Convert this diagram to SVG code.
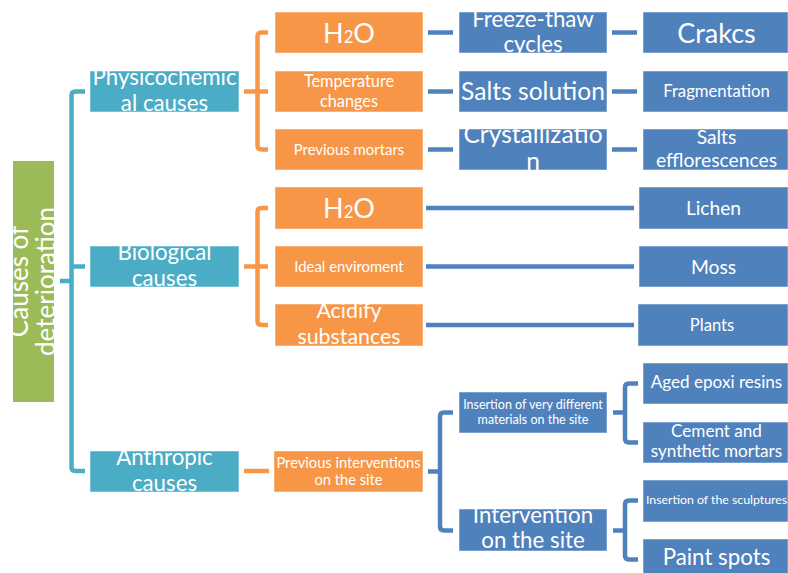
<svg xmlns="http://www.w3.org/2000/svg" width="788" height="573" viewBox="0 0 788 573">
<style>
.t{fill:#fff;font-family:Lato,"Liberation Sans",sans-serif;text-anchor:middle}
.green{fill:#9BBB59}
.teal{fill:#4BACC6}
.orange{fill:#F79646}
.blue{fill:#4F81BD}
.box{stroke:#fff;stroke-opacity:.5;stroke-width:1}
#connectors path{fill:none;stroke-width:4.5;stroke-linejoin:round}
.ct{stroke:#4BACC6}
.co{stroke:#F79646}
.cb{stroke:#4F81BD}
</style>
<rect width="788" height="573" fill="#fff"/>
<g id="connectors">
<path class="ct" d="M60,281 H71.5"/>
<path class="ct" d="M85,91.5 H75.5 Q71.5,91.5 71.5,95.5 V467 Q71.5,471 75.5,471 H85"/>
<path class="ct" d="M71.5,266.5 H85"/>
<path class="co" d="M268,32.5 H261.5 Q257.5,32.5 257.5,36.5 V145.5 Q257.5,149.5 261.5,149.5 H268"/>
<path class="co" d="M244,91.5 H268"/>
<path class="co" d="M268,208 H261.5 Q257.5,208 257.5,212 V321 Q257.5,325 261.5,325 H268"/>
<path class="co" d="M244,266.5 H268"/>
<path class="co" d="M244,471 H269"/>
<path class="cb" d="M428,32.5 H453"/>
<path class="cb" d="M428,91.5 H453"/>
<path class="cb" d="M428,149.5 H453"/>
<path class="cb" d="M612,32.5 H637"/>
<path class="cb" d="M612,91.5 H637"/>
<path class="cb" d="M612,149.5 H637"/>
<path class="cb" d="M426,208 H634"/>
<path class="cb" d="M426,266.5 H634"/>
<path class="cb" d="M426,325 H634"/>
<path class="cb" d="M428,471.5 H440"/>
<path class="cb" d="M453,412.5 H444 Q440,412.5 440,416.5 V526.5 Q440,530.5 444,530.5 H453"/>
<path class="cb" d="M613,412.5 H625"/>
<path class="cb" d="M638,383.5 H629 Q625,383.5 625,387.5 V438.5 Q625,442.5 629,442.5 H638"/>
<path class="cb" d="M613,530.5 H625"/>
<path class="cb" d="M638,500.5 H629 Q625,500.5 625,504.5 V555.5 Q625,559.5 629,559.5 H638"/>
</g>

<g id="root"><svg x="13" y="161" width="41" height="241" viewBox="13 161 41 241"><rect class="green" x="13" y="161" width="41" height="241"/><text class="t" font-size="26" transform="translate(33.5,281.5) rotate(-90)"><tspan x="0" y="-5.5">Causes of</tspan><tspan x="0" y="21.5">deterioration</tspan></text></svg></g>

<g id="physicochemical"><svg x="90" y="71" width="149" height="41" viewBox="90 71 149 41"><rect class="teal box" x="90" y="71" width="149" height="41"/><text class="t" font-size="22.3"><tspan x="164.5" y="85">Physicochemic</tspan><tspan x="164.5" y="111">al causes</tspan></text></svg></g>
<g id="biological"><svg x="90" y="246" width="149" height="41" viewBox="90 246 149 41"><rect class="teal box" x="90" y="246" width="149" height="41"/><text class="t" font-size="22.3"><tspan x="164.5" y="260">Biological</tspan><tspan x="164.5" y="286">causes</tspan></text></svg></g>
<g id="anthropic"><svg x="90" y="451" width="149" height="41" viewBox="90 451 149 41"><rect class="teal box" x="90" y="451" width="149" height="41"/><text class="t" font-size="22.3"><tspan x="164.5" y="465">Anthropic</tspan><tspan x="164.5" y="491">causes</tspan></text></svg></g>

<g id="p-h2o"><svg x="275" y="12" width="148" height="41" viewBox="275 12 148 41"><rect class="orange box" x="275" y="12" width="148" height="41"/><text class="t" font-size="27" x="349" y="42.5">H<tspan font-size="16.7">2</tspan>O</text></svg></g>
<g id="p-temperature"><svg x="275" y="71" width="148" height="41" viewBox="275 71 148 41"><rect class="orange box" x="275" y="71" width="148" height="41"/><text class="t" font-size="16.3"><tspan x="349" y="87">Temperature</tspan><tspan x="349" y="106.5">changes</tspan></text></svg></g>
<g id="p-mortars"><svg x="275" y="129" width="148" height="41" viewBox="275 129 148 41"><rect class="orange box" x="275" y="129" width="148" height="41"/><text class="t" font-size="14.9" x="349" y="155">Previous mortars</text></svg></g>

<g id="freeze"><svg x="459" y="12" width="148" height="41" viewBox="459 12 148 41"><rect class="blue box" x="459" y="12" width="148" height="41"/><text class="t" font-size="22.3"><tspan x="533" y="27">Freeze-thaw</tspan><tspan x="533" y="52">cycles</tspan></text></svg></g>
<g id="salts-solution"><svg x="459" y="71" width="148" height="41" viewBox="459 71 148 41"><rect class="blue box" x="459" y="71" width="148" height="41"/><text class="t" font-size="24.6" x="533" y="99.5">Salts solution</text></svg></g>
<g id="crystallization"><svg x="459" y="129" width="148" height="41" viewBox="459 129 148 41"><rect class="blue box" x="459" y="129" width="148" height="41"/><text class="t" font-size="24.6"><tspan x="533" y="143">Crystallizatio</tspan><tspan x="533" y="170">n</tspan></text></svg></g>

<g id="cracks"><svg x="643" y="12" width="145" height="41" viewBox="643 12 145 41"><rect class="blue box" x="643" y="12" width="145" height="41"/><text class="t" font-size="27" x="716.5" y="42.5">Crakcs</text></svg></g>
<g id="fragmentation"><svg x="643" y="71" width="145" height="41" viewBox="643 71 145 41"><rect class="blue box" x="643" y="71" width="145" height="41"/><text class="t" font-size="16.7" x="716.5" y="97">Fragmentation</text></svg></g>
<g id="efflorescences"><svg x="643" y="129" width="145" height="41" viewBox="643 129 145 41"><rect class="blue box" x="643" y="129" width="145" height="41"/><text class="t" font-size="19.3"><tspan x="716.5" y="143.5">Salts</tspan><tspan x="716.5" y="167">efflorescences</tspan></text></svg></g>

<g id="b-h2o"><svg x="275" y="187" width="148" height="42" viewBox="275 187 148 42"><rect class="orange box" x="275" y="187" width="148" height="42"/><text class="t" font-size="27" x="349" y="218">H<tspan font-size="16.7">2</tspan>O</text></svg></g>
<g id="b-ideal"><svg x="275" y="246" width="148" height="41" viewBox="275 246 148 41"><rect class="orange box" x="275" y="246" width="148" height="41"/><text class="t" font-size="14.9" x="349" y="272">Ideal enviroment</text></svg></g>
<g id="b-acidify"><svg x="275" y="304" width="148" height="42" viewBox="275 304 148 42"><rect class="orange box" x="275" y="304" width="148" height="42"/><text class="t" font-size="21.4"><tspan x="349" y="318">Acidify</tspan><tspan x="349" y="344">substances</tspan></text></svg></g>

<g id="lichen"><svg x="639" y="187" width="149" height="42" viewBox="639 187 149 42"><rect class="blue box" x="639" y="187" width="149" height="42"/><text class="t" font-size="19.2" x="713.5" y="215">Lichen</text></svg></g>
<g id="moss"><svg x="639" y="246" width="149" height="41" viewBox="639 246 149 41"><rect class="blue box" x="639" y="246" width="149" height="41"/><text class="t" font-size="19.3" x="713.5" y="273.5">Moss</text></svg></g>
<g id="plants"><svg x="638" y="304" width="150" height="42" viewBox="638 304 150 42"><rect class="blue box" x="638" y="304" width="150" height="42"/><text class="t" font-size="16.6" x="712" y="331">Plants</text></svg></g>

<g id="previous-interventions"><svg x="274" y="451" width="149" height="41" viewBox="274 451 149 41"><rect class="orange box" x="274" y="451" width="149" height="41"/><text class="t" font-size="14.7"><tspan x="348.5" y="468">Previous interventions</tspan><tspan x="348.5" y="485">on the site</tspan></text></svg></g>

<g id="insertion-materials"><svg x="459" y="392" width="148" height="41" viewBox="459 392 148 41"><rect class="blue box" x="459" y="392" width="148" height="41"/><text class="t" font-size="12.5"><tspan x="533" y="409">Insertion of very different</tspan><tspan x="533" y="423.5">materials on the site</tspan></text></svg></g>
<g id="intervention"><svg x="459" y="509" width="148" height="42" viewBox="459 509 148 42"><rect class="blue box" x="459" y="509" width="148" height="42"/><text class="t" font-size="22.3"><tspan x="533" y="523">Intervention</tspan><tspan x="533" y="548">on the site</tspan></text></svg></g>

<g id="epoxi"><svg x="643" y="363" width="145" height="41" viewBox="643 363 145 41"><rect class="blue box" x="643" y="363" width="145" height="41"/><text class="t" font-size="17.1" x="716.5" y="388">Aged epoxi resins</text></svg></g>
<g id="cement"><svg x="643" y="422" width="145" height="41" viewBox="643 422 145 41"><rect class="blue box" x="643" y="422" width="145" height="41"/><text class="t" font-size="17.1"><tspan x="716.5" y="437">Cement and</tspan><tspan x="716.5" y="457">synthetic mortars</tspan></text></svg></g>
<g id="sculptures"><svg x="643" y="480" width="145" height="42" viewBox="643 480 145 42"><rect class="blue box" x="643" y="480" width="145" height="42"/><text class="t" font-size="12.3" x="716.5" y="504">Insertion of the sculptures</text></svg></g>
<g id="paint"><svg x="643" y="539" width="145" height="42" viewBox="643 539 145 42"><rect class="blue box" x="643" y="539" width="145" height="42"/><text class="t" font-size="22.3" x="716.5" y="565">Paint spots</text></svg></g>
</svg>
